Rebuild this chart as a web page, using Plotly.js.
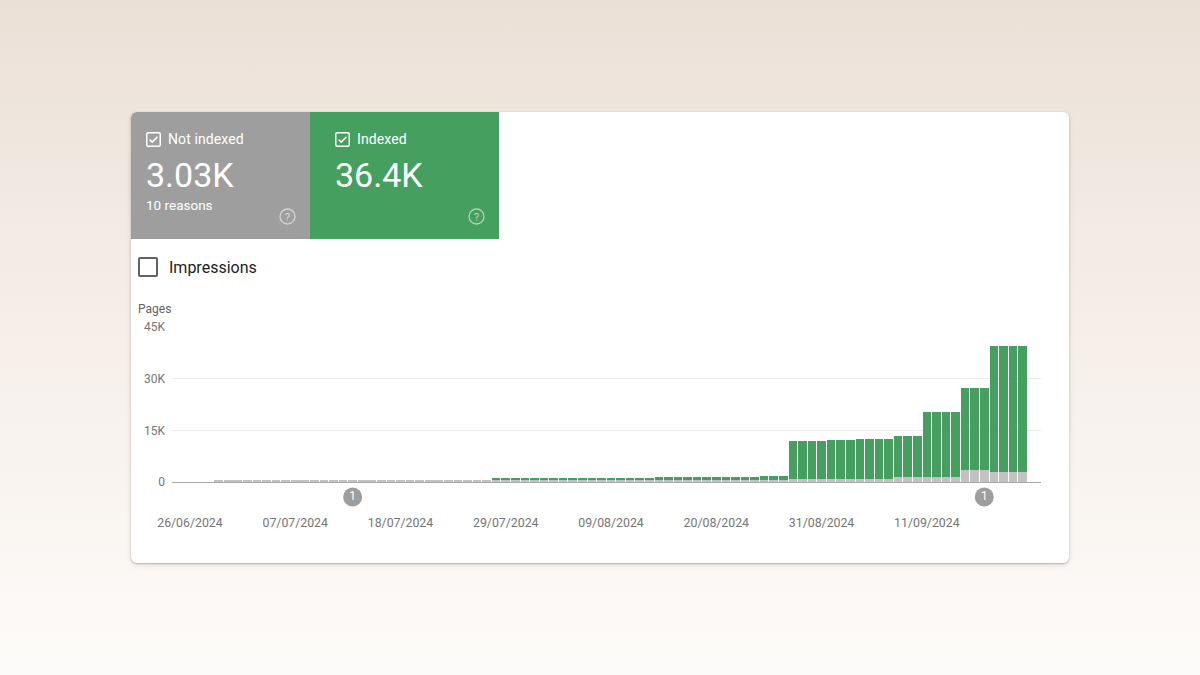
<!DOCTYPE html>
<html>
<head>
<meta charset="utf-8">
<script src="https://cdn.plot.ly/plotly-3.0.1.min.js"></script>
<style>
  html, body { margin: 0; padding: 0; }
  body {
    width: 1200px; height: 675px; overflow: hidden; position: relative;
    font-family: Roboto, "Noto Sans", Arial, sans-serif;
    background: linear-gradient(to bottom, #ebe0d6 0%, #f5eee8 45%, #fdfbf9 100%);
  }
  .card {
    position: absolute; left: 131px; top: 112px; width: 938px; height: 451px;
    background: #ffffff; border-radius: 6px;
    box-shadow: 0 1px 2px rgba(0,0,0,0.22), 0 2px 6px rgba(0,0,0,0.10);
  }
  .tile {
    position: absolute; top: 0; height: 127px; color: #ffffff;
  }
  .tile.off { left: 0; width: 179px; background: #9e9e9e; border-top-left-radius: 6px; }
  .tile.on  { left: 179px; width: 189px; background: #45a05f; }
  .tile .head { position: absolute; left: 15px; top: 18px; height: 18px; display: flex; align-items: center; }
  .tile .head span { margin-left: 7px; font-size: 14px; letter-spacing: 0.1px; }
  .tile .big { position: absolute; left: 15px; top: 43px; font-size: 34px; line-height: 40px; }
  .tile .sub { position: absolute; left: 15px; top: 85px; font-size: 13.5px; line-height: 16px; }
  .tile .help { position: absolute; top: 96px; }
  .metric {
    position: absolute; left: 7px; top: 145px; display: flex; align-items: center;
  }
  .metric .box {
    width: 16px; height: 16px; border: 2px solid #5f6368; border-radius: 2px;
  }
  .metric span { margin-left: 11px; font-size: 16px; color: #202124; }
  #chart { position: absolute; left: 0; top: 0; width: 1200px; height: 675px; }
</style>
</head>
<body>
<div class="card">
  <div class="tile off">
    <div class="head">
      <svg width="15" height="15" viewBox="0 0 15 15"><rect x="0.75" y="0.75" width="13.5" height="13.5" rx="1.5" fill="none" stroke="#fff" stroke-width="1.5"/><path d="M3.6 7.6 L6.2 10.1 L11.4 4.9" fill="none" stroke="#fff" stroke-width="1.5"/></svg>
      <span>Not indexed</span>
    </div>
    <div class="big">3.03K</div>
    <div class="sub">10 reasons</div>
    <svg class="help" style="left:148px" width="17" height="17" viewBox="0 0 17 17"><circle cx="8.5" cy="8.5" r="7.5" fill="none" stroke="rgba(255,255,255,0.55)" stroke-width="1.3"/><text x="8.5" y="12.6" text-anchor="middle" font-size="11.5" font-family="Roboto, sans-serif" fill="rgba(255,255,255,0.6)">?</text></svg>
  </div>
  <div class="tile on">
    <div class="head" style="left:25px">
      <svg width="15" height="15" viewBox="0 0 15 15"><rect x="0.75" y="0.75" width="13.5" height="13.5" rx="1.5" fill="none" stroke="#fff" stroke-width="1.5"/><path d="M3.6 7.6 L6.2 10.1 L11.4 4.9" fill="none" stroke="#fff" stroke-width="1.5"/></svg>
      <span>Indexed</span>
    </div>
    <div class="big" style="left:25px">36.4K</div>
    <svg class="help" style="left:158px" width="17" height="17" viewBox="0 0 17 17"><circle cx="8.5" cy="8.5" r="7.5" fill="none" stroke="rgba(255,255,255,0.55)" stroke-width="1.3"/><text x="8.5" y="12.6" text-anchor="middle" font-size="11.5" font-family="Roboto, sans-serif" fill="rgba(255,255,255,0.6)">?</text></svg>
  </div>
  <div class="metric"><div class="box"></div><span>Impressions</span></div>
</div>
<div id="chart"></div>
<script>
// Daily page counts, 26/06/2024 .. 21/09/2024 (88 days)
const startDate = '2024-06-26';

const notIndexed = [
  0, 0, 0,
  450, 450, 450, 450, 450, 450, 450, 450, 450, 450,
  450, 450, 450, 450, 450, 450, 450, 450, 450, 450,
  450, 450, 450, 450, 450, 450, 450, 450, 450,
  450, 450, 450, 450, 450, 450, 450, 450, 450, 450,
  450, 450, 450, 450, 450, 450, 450,
  450, 450, 450, 450, 450, 450, 450, 450, 450, 450, 450,
  450, 450, 450,
  880, 880, 880, 880,
  880, 880, 880,
  880, 880, 880, 880,
  1540, 1540, 1540,
  1540, 1540, 1540, 1540,
  3500, 3500, 3500,
  3030, 3030, 3030, 3030
];

const indexed = [
  0, 0, 0,
  0, 0, 0, 0, 0, 0, 0, 0, 0, 0,
  0, 0, 0, 0, 0, 0, 0, 0, 0, 0,
  0, 0, 0, 0, 0, 0, 0, 0, 0,
  750, 750, 750, 750, 750, 750, 750, 750, 750, 750,
  750, 750, 750, 750, 750, 750, 750,
  950, 950, 950, 950, 950, 950, 950, 950, 950, 950, 950,
  1250, 1250, 1250,
  11000, 11000, 11000, 11000,
  11300, 11300, 11300,
  11600, 11600, 11600, 11600,
  11850, 11850, 11850,
  18850, 18850, 18850, 18850,
  23900, 23900, 23900,
  36400, 36400, 36400, 36400
];

// Annotation markers shown under the axis
const eventDates = ['2024-07-13', '2024-09-17'];
const eventLabels = ['1', '1'];

const xTickDates = ['2024-06-26', '2024-07-07', '2024-07-18', '2024-07-29',
                    '2024-08-09', '2024-08-20', '2024-08-31', '2024-09-11'];

const yTickVals = [0, 15000, 30000, 45000];
const yTickText = ['0', '15K', '30K', '45K'];

// consecutive calendar days for the x axis
const days = [];
{
  const d0 = new Date(startDate + 'T00:00:00Z');
  for (let i = 0; i < indexed.length; i++) {
    const d = new Date(d0.getTime() + i * 86400000);
    days.push(d.toISOString().slice(0, 10));
  }
}

const traces = [
  {
    type: 'bar', x: days, y: notIndexed, name: 'Not indexed',
    marker: { color: '#c2c2c2', line: { width: 0 } }, hoverinfo: 'skip'
  },
  {
    type: 'bar', x: days, y: indexed, name: 'Indexed',
    marker: { color: '#45a05f', line: { width: 0 } }, hoverinfo: 'skip'
  },
  {
    // event strip lives in its own thin y axis below the bars
    type: 'scatter', mode: 'markers+text', x: eventDates, yaxis: 'y2',
    y: eventDates.map(() => 0.625), text: eventLabels,
    textposition: 'middle center', cliponaxis: false,
    textfont: { family: 'Roboto, sans-serif', size: 12, color: '#ffffff' },
    marker: { size: 19, color: '#9e9e9e' }, hoverinfo: 'skip', showlegend: false
  }
];

const layout = {
  width: 1200, height: 675,
  margin: { l: 172, r: 159, t: 327, b: 153, pad: 0 },
  paper_bgcolor: 'rgba(0,0,0,0)', plot_bgcolor: 'rgba(0,0,0,0)',
  barmode: 'stack', bargap: 0.1, showlegend: false,
  font: { family: 'Roboto, sans-serif', color: '#757575', size: 12 },
  xaxis: {
    type: 'date', anchor: 'y',
    range: ['2024-06-24 03:00', '2024-09-22 22:20'],
    tickvals: xTickDates,
    tickformat: '%d/%m/%Y', ticks: '', ticklabelstandoff: 29,
    showgrid: false, zeroline: false,
    showline: true, linecolor: '#a8a8a8', linewidth: 1,
    tickfont: { size: 12.3, color: '#757575' }, fixedrange: true
  },
  yaxis: {
    domain: [0.2051, 1],
    range: [0, 45000], tickvals: yTickVals, ticktext: yTickText,
    ticks: '', ticklabelstandoff: 6,
    showgrid: true, gridcolor: '#ececec', gridwidth: 1,
    zeroline: false, showline: false,
    tickfont: { size: 12, color: '#757575' }, fixedrange: true
  },
  yaxis2: {
    domain: [0, 0.2051], range: [0, 1],
    visible: false, showgrid: false, zeroline: false, fixedrange: true
  },
  annotations: [
    {
      xref: 'paper', yref: 'paper', x: -0.0415, y: 1.0923,
      xanchor: 'left', yanchor: 'middle', showarrow: false,
      text: 'Pages', font: { size: 12, color: '#616161' }
    }
  ]
};

Plotly.newPlot('chart', traces, layout, { displayModeBar: false, staticPlot: true });
</script>
</body>
</html>
